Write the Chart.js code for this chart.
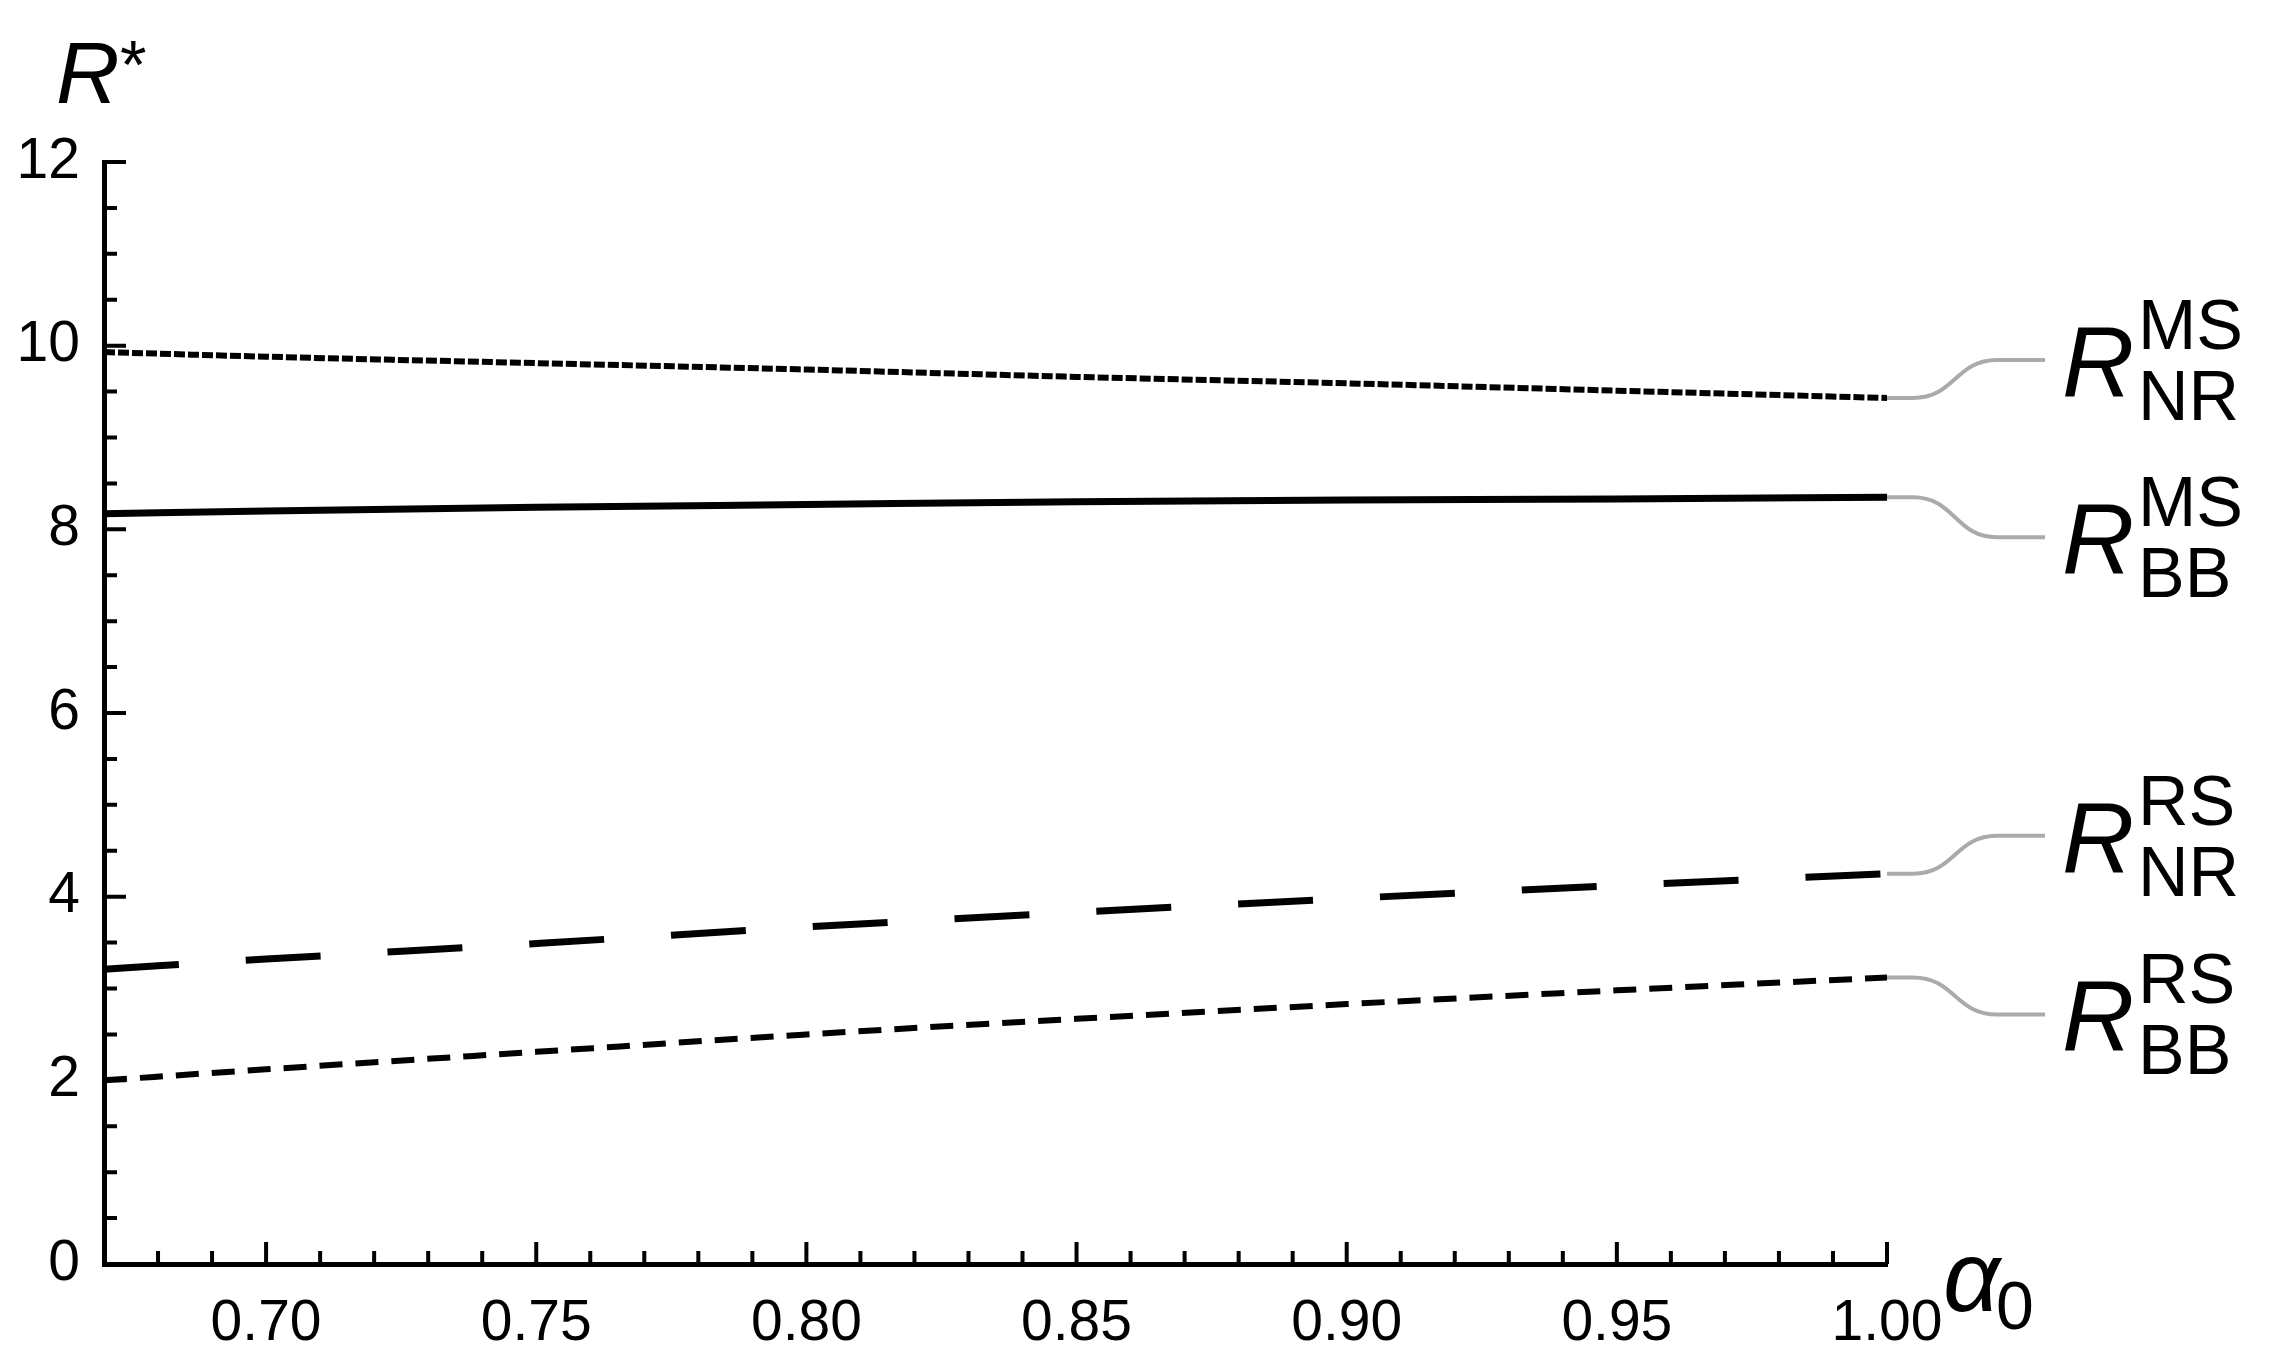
<!DOCTYPE html>
<html>
<head>
<meta charset="utf-8">
<script src="https://cdn.jsdelivr.net/npm/chart.js@4/dist/chart.umd.min.js"></script>
<style>
  html, body { margin: 0; padding: 0; background: #ffffff; }
  #wrap { width: 2272px; height: 1369px; }
</style>
</head>
<body>
<div id="wrap"><canvas id="c" width="2272" height="1369"></canvas></div>
<script>
// ---- data ----
const alpha0 = [0.67, 0.70, 0.75, 0.80, 0.85, 0.90, 0.95, 1.00];
const R_NR_MS = [9.93, 9.88, 9.81, 9.74, 9.66, 9.59, 9.51, 9.43];
const R_BB_MS = [8.17, 8.20, 8.24, 8.27, 8.30, 8.32, 8.33, 8.35];
const R_NR_RS = [3.21, 3.32, 3.49, 3.67, 3.83, 3.98, 4.12, 4.25];
const R_BB_RS = [2.00, 2.12, 2.31, 2.50, 2.67, 2.83, 2.98, 3.12];

const xTickLabels = ['0.70', '0.75', '0.80', '0.85', '0.90', '0.95', '1.00'];
const yTickLabels = ['0', '2', '4', '6', '8', '10', '12'];
const xRange = [0.67, 1.00];
const yRange = [0, 12];
const xMinorStep = 0.01;
const yMinorStep = 0.5;

const seriesNames = [
  { sup: 'MS', sub: 'NR' },
  { sup: 'MS', sub: 'BB' },
  { sup: 'RS', sub: 'NR' },
  { sup: 'RS', sub: 'BB' }
];

const FONT = "'Liberation Sans', Arial, Helvetica, sans-serif";

function pts(ys) { return alpha0.map((x, i) => ({ x: x, y: ys[i] })); }

function buildMinor(min, max, step) {
  const out = [];
  const n = Math.round((max - min) / step);
  for (let i = 0; i <= n; i++) out.push({ value: +(min + i * step).toFixed(4) });
  return out;
}

// inward ticks drawn from the scales' own tick lists
const innerTicks = {
  id: 'innerTicks',
  afterDraw(chart) {
    const ctx = chart.ctx;
    const xs = chart.scales.x, ys = chart.scales.y;
    const area = chart.chartArea;
    ctx.save();
    ctx.strokeStyle = '#000';
    ctx.lineWidth = 4;
    ctx.beginPath();
    xs.ticks.forEach(t => {
      const px = xs.getPixelForValue(t.value);
      const major = xTickLabels.includes(t.value.toFixed(2));
      const len = major ? 22 : 13;
      ctx.moveTo(px, area.bottom);
      ctx.lineTo(px, area.bottom - len);
    });
    ys.ticks.forEach(t => {
      const py = ys.getPixelForValue(t.value);
      const major = yTickLabels.includes(String(t.value));
      const len = major ? 22 : 13;
      ctx.moveTo(area.left, py);
      ctx.lineTo(area.left + len, py);
    });
    ctx.stroke();
    ctx.restore();
  }
};

// axis titles and series labels with connectors
const annot = {
  id: 'annot',
  afterDraw(chart) {
    const ctx = chart.ctx;
    const xs = chart.scales.x, ys = chart.scales.y;
    ctx.save();
    ctx.fillStyle = '#000';
    ctx.textBaseline = 'alphabetic';
    ctx.textAlign = 'left';
    // R*
    ctx.font = 'italic 88px ' + FONT;
    ctx.fillText('R', 56, 103);
    ctx.font = '68px ' + FONT;
    ctx.fillText('*', 120, 88);
    // alpha_0
    ctx.font = 'italic 100px ' + FONT;
    ctx.fillText('\u03B1', 1943, 1311);
    ctx.font = '68px ' + FONT;
    ctx.fillText('0', 1996, 1329);

    const offsets = [-38, 40, -38, 37];
    chart.data.datasets.forEach((ds, i) => {
      const last = ds.data[ds.data.length - 1];
      const px = xs.getPixelForValue(last.x);
      const py = ys.getPixelForValue(last.y);
      const ly = py + offsets[i];
      ctx.strokeStyle = '#aaaaaa';
      ctx.lineWidth = 4;
      ctx.beginPath();
      ctx.moveTo(px, py);
      ctx.lineTo(px + 26, py);
      ctx.bezierCurveTo(px + 68, py, px + 68, ly, px + 110, ly);
      ctx.lineTo(px + 158, ly);
      ctx.stroke();
      // label
      ctx.fillStyle = '#000';
      ctx.font = 'italic 100px ' + FONT;
      ctx.fillText('R', px + 175, ly + 37);
      ctx.font = '70px ' + FONT;
      ctx.fillText(seriesNames[i].sup, px + 251, ly - 11);
      ctx.fillText(seriesNames[i].sub, px + 251, ly + 60);
    });
    ctx.restore();
  }
};

const lineBase = { pointRadius: 0, borderColor: '#000', fill: false, cubicInterpolationMode: 'monotone' };

new Chart(document.getElementById('c'), {
  type: 'line',
  data: {
    datasets: [
      Object.assign({ label: 'R_NR^MS', data: pts(R_NR_MS), borderWidth: 6, borderDash: [11, 3] }, lineBase),
      Object.assign({ label: 'R_BB^MS', data: pts(R_BB_MS), borderWidth: 7 }, lineBase),
      Object.assign({ label: 'R_NR^RS', data: pts(R_NR_RS), borderWidth: 7, borderDash: [75, 67] }, lineBase),
      Object.assign({ label: 'R_BB^RS', data: pts(R_BB_RS), borderWidth: 6, borderDash: [23, 13] }, lineBase)
    ]
  },
  options: {
    responsive: false,
    animation: false,
    devicePixelRatio: 1,
    layout: { padding: { top: 162, right: 385, bottom: 0, left: 0 } },
    plugins: { legend: { display: false }, tooltip: { enabled: false } },
    scales: {
      x: {
        type: 'linear',
        min: xRange[0], max: xRange[1],
        grid: { display: false, drawTicks: false },
        border: { display: true, color: '#000', width: 5 },
        afterBuildTicks(scale) { scale.ticks = buildMinor(xRange[0], xRange[1], xMinorStep); },
        afterFit(scale) { scale.height = 105; },
        ticks: {
          autoSkip: false, maxRotation: 0, minRotation: 0, padding: 26,
          color: '#000', font: { family: FONT, size: 57 },
          callback(v) { const s = Number(v).toFixed(2); return xTickLabels.includes(s) ? s : ''; }
        }
      },
      y: {
        type: 'linear',
        min: yRange[0], max: yRange[1],
        grid: { display: false, drawTicks: false },
        border: { display: true, color: '#000', width: 5 },
        afterBuildTicks(scale) { scale.ticks = buildMinor(yRange[0], yRange[1], yMinorStep); },
        afterFit(scale) { scale.width = 104; },
        ticks: {
          autoSkip: false, padding: 24,
          color: '#000', font: { family: FONT, size: 57 },
          callback(v) { const s = String(v); return yTickLabels.includes(s) ? s : ''; }
        }
      }
    }
  },
  plugins: [innerTicks, annot]
});
</script>
</body>
</html>
